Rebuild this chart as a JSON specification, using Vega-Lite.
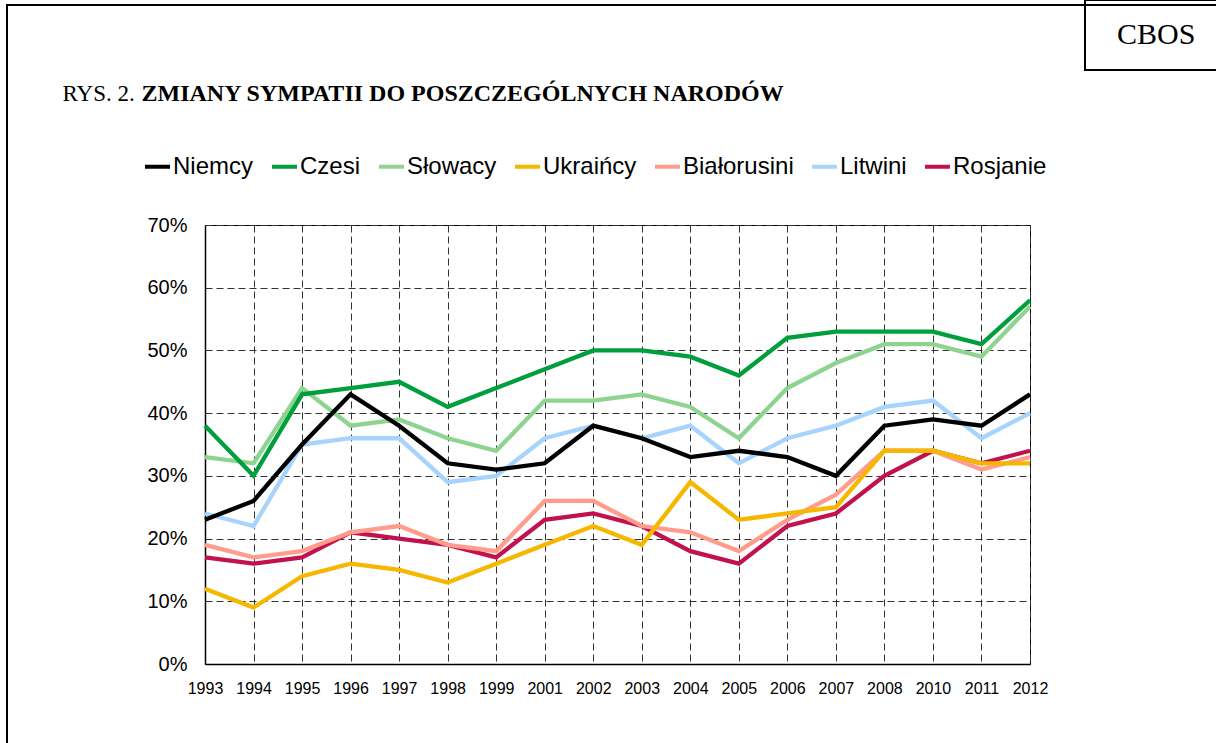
{
  "$schema": "https://vega.github.io/schema/vega-lite/v6.json",
  "width": 825,
  "height": 439,
  "autosize": {"type": "none"},
  "padding": {"left": 205, "top": 225, "right": 186, "bottom": 79},
  "background": "white",
  "config": {
    "view": {"stroke": "#000", "strokeWidth": 1},
    "font": "Liberation Sans",
    "legend": {"strokeWidth": 2}
  },
  "layer": [
    {
      "data": {
        "values": [
          {"rok": "1993", "narod": "Rosjanie", "v": 0.17}, {"rok": "1994", "narod": "Rosjanie", "v": 0.16}, {"rok": "1995", "narod": "Rosjanie", "v": 0.17}, {"rok": "1996", "narod": "Rosjanie", "v": 0.21}, {"rok": "1997", "narod": "Rosjanie", "v": 0.20}, {"rok": "1998", "narod": "Rosjanie", "v": 0.19}, {"rok": "1999", "narod": "Rosjanie", "v": 0.17}, {"rok": "2001", "narod": "Rosjanie", "v": 0.23}, {"rok": "2002", "narod": "Rosjanie", "v": 0.24}, {"rok": "2003", "narod": "Rosjanie", "v": 0.22}, {"rok": "2004", "narod": "Rosjanie", "v": 0.18}, {"rok": "2005", "narod": "Rosjanie", "v": 0.16}, {"rok": "2006", "narod": "Rosjanie", "v": 0.22}, {"rok": "2007", "narod": "Rosjanie", "v": 0.24}, {"rok": "2008", "narod": "Rosjanie", "v": 0.30}, {"rok": "2010", "narod": "Rosjanie", "v": 0.34}, {"rok": "2011", "narod": "Rosjanie", "v": 0.32}, {"rok": "2012", "narod": "Rosjanie", "v": 0.34},
          {"rok": "1993", "narod": "Litwini", "v": 0.24}, {"rok": "1994", "narod": "Litwini", "v": 0.22}, {"rok": "1995", "narod": "Litwini", "v": 0.35}, {"rok": "1996", "narod": "Litwini", "v": 0.36}, {"rok": "1997", "narod": "Litwini", "v": 0.36}, {"rok": "1998", "narod": "Litwini", "v": 0.29}, {"rok": "1999", "narod": "Litwini", "v": 0.30}, {"rok": "2001", "narod": "Litwini", "v": 0.36}, {"rok": "2002", "narod": "Litwini", "v": 0.38}, {"rok": "2003", "narod": "Litwini", "v": 0.36}, {"rok": "2004", "narod": "Litwini", "v": 0.38}, {"rok": "2005", "narod": "Litwini", "v": 0.32}, {"rok": "2006", "narod": "Litwini", "v": 0.36}, {"rok": "2007", "narod": "Litwini", "v": 0.38}, {"rok": "2008", "narod": "Litwini", "v": 0.41}, {"rok": "2010", "narod": "Litwini", "v": 0.42}, {"rok": "2011", "narod": "Litwini", "v": 0.36}, {"rok": "2012", "narod": "Litwini", "v": 0.40},
          {"rok": "1993", "narod": "Białorusini", "v": 0.19}, {"rok": "1994", "narod": "Białorusini", "v": 0.17}, {"rok": "1995", "narod": "Białorusini", "v": 0.18}, {"rok": "1996", "narod": "Białorusini", "v": 0.21}, {"rok": "1997", "narod": "Białorusini", "v": 0.22}, {"rok": "1998", "narod": "Białorusini", "v": 0.19}, {"rok": "1999", "narod": "Białorusini", "v": 0.18}, {"rok": "2001", "narod": "Białorusini", "v": 0.26}, {"rok": "2002", "narod": "Białorusini", "v": 0.26}, {"rok": "2003", "narod": "Białorusini", "v": 0.22}, {"rok": "2004", "narod": "Białorusini", "v": 0.21}, {"rok": "2005", "narod": "Białorusini", "v": 0.18}, {"rok": "2006", "narod": "Białorusini", "v": 0.23}, {"rok": "2007", "narod": "Białorusini", "v": 0.27}, {"rok": "2008", "narod": "Białorusini", "v": 0.34}, {"rok": "2010", "narod": "Białorusini", "v": 0.34}, {"rok": "2011", "narod": "Białorusini", "v": 0.31}, {"rok": "2012", "narod": "Białorusini", "v": 0.33},
          {"rok": "1993", "narod": "Ukraińcy", "v": 0.12}, {"rok": "1994", "narod": "Ukraińcy", "v": 0.09}, {"rok": "1995", "narod": "Ukraińcy", "v": 0.14}, {"rok": "1996", "narod": "Ukraińcy", "v": 0.16}, {"rok": "1997", "narod": "Ukraińcy", "v": 0.15}, {"rok": "1998", "narod": "Ukraińcy", "v": 0.13}, {"rok": "1999", "narod": "Ukraińcy", "v": 0.16}, {"rok": "2001", "narod": "Ukraińcy", "v": 0.19}, {"rok": "2002", "narod": "Ukraińcy", "v": 0.22}, {"rok": "2003", "narod": "Ukraińcy", "v": 0.19}, {"rok": "2004", "narod": "Ukraińcy", "v": 0.29}, {"rok": "2005", "narod": "Ukraińcy", "v": 0.23}, {"rok": "2006", "narod": "Ukraińcy", "v": 0.24}, {"rok": "2007", "narod": "Ukraińcy", "v": 0.25}, {"rok": "2008", "narod": "Ukraińcy", "v": 0.34}, {"rok": "2010", "narod": "Ukraińcy", "v": 0.34}, {"rok": "2011", "narod": "Ukraińcy", "v": 0.32}, {"rok": "2012", "narod": "Ukraińcy", "v": 0.32},
          {"rok": "1993", "narod": "Słowacy", "v": 0.33}, {"rok": "1994", "narod": "Słowacy", "v": 0.32}, {"rok": "1995", "narod": "Słowacy", "v": 0.44}, {"rok": "1996", "narod": "Słowacy", "v": 0.38}, {"rok": "1997", "narod": "Słowacy", "v": 0.39}, {"rok": "1998", "narod": "Słowacy", "v": 0.36}, {"rok": "1999", "narod": "Słowacy", "v": 0.34}, {"rok": "2001", "narod": "Słowacy", "v": 0.42}, {"rok": "2002", "narod": "Słowacy", "v": 0.42}, {"rok": "2003", "narod": "Słowacy", "v": 0.43}, {"rok": "2004", "narod": "Słowacy", "v": 0.41}, {"rok": "2005", "narod": "Słowacy", "v": 0.36}, {"rok": "2006", "narod": "Słowacy", "v": 0.44}, {"rok": "2007", "narod": "Słowacy", "v": 0.48}, {"rok": "2008", "narod": "Słowacy", "v": 0.51}, {"rok": "2010", "narod": "Słowacy", "v": 0.51}, {"rok": "2011", "narod": "Słowacy", "v": 0.49}, {"rok": "2012", "narod": "Słowacy", "v": 0.57},
          {"rok": "1993", "narod": "Czesi", "v": 0.38}, {"rok": "1994", "narod": "Czesi", "v": 0.30}, {"rok": "1995", "narod": "Czesi", "v": 0.43}, {"rok": "1996", "narod": "Czesi", "v": 0.44}, {"rok": "1997", "narod": "Czesi", "v": 0.45}, {"rok": "1998", "narod": "Czesi", "v": 0.41}, {"rok": "1999", "narod": "Czesi", "v": 0.44}, {"rok": "2001", "narod": "Czesi", "v": 0.47}, {"rok": "2002", "narod": "Czesi", "v": 0.50}, {"rok": "2003", "narod": "Czesi", "v": 0.50}, {"rok": "2004", "narod": "Czesi", "v": 0.49}, {"rok": "2005", "narod": "Czesi", "v": 0.46}, {"rok": "2006", "narod": "Czesi", "v": 0.52}, {"rok": "2007", "narod": "Czesi", "v": 0.53}, {"rok": "2008", "narod": "Czesi", "v": 0.53}, {"rok": "2010", "narod": "Czesi", "v": 0.53}, {"rok": "2011", "narod": "Czesi", "v": 0.51}, {"rok": "2012", "narod": "Czesi", "v": 0.58},
          {"rok": "1993", "narod": "Niemcy", "v": 0.23}, {"rok": "1994", "narod": "Niemcy", "v": 0.26}, {"rok": "1995", "narod": "Niemcy", "v": 0.35}, {"rok": "1996", "narod": "Niemcy", "v": 0.43}, {"rok": "1997", "narod": "Niemcy", "v": 0.38}, {"rok": "1998", "narod": "Niemcy", "v": 0.32}, {"rok": "1999", "narod": "Niemcy", "v": 0.31}, {"rok": "2001", "narod": "Niemcy", "v": 0.32}, {"rok": "2002", "narod": "Niemcy", "v": 0.38}, {"rok": "2003", "narod": "Niemcy", "v": 0.36}, {"rok": "2004", "narod": "Niemcy", "v": 0.33}, {"rok": "2005", "narod": "Niemcy", "v": 0.34}, {"rok": "2006", "narod": "Niemcy", "v": 0.33}, {"rok": "2007", "narod": "Niemcy", "v": 0.30}, {"rok": "2008", "narod": "Niemcy", "v": 0.38}, {"rok": "2010", "narod": "Niemcy", "v": 0.39}, {"rok": "2011", "narod": "Niemcy", "v": 0.38}, {"rok": "2012", "narod": "Niemcy", "v": 0.43}
        ]
      },
      "mark": {"type": "line", "strokeWidth": 4.3},
      "encoding": {
        "x": {
          "field": "rok", "type": "ordinal",
          "scale": {"type": "point", "padding": 0},
          "axis": {
            "title": "RYS. 2.", "titleX": -143, "titleY": -564, "titleAlign": "left", "titleAnchor": null,
            "titleBaseline": "alphabetic", "titleFont": "Liberation Serif", "titleFontSize": 23,
            "titleFontWeight": "normal", "titleColor": "#000",
            "labelAngle": 0, "labelFontSize": 16, "labelColor": "#000", "labelPadding": 16,
            "ticks": false, "domainColor": "#000", "domainWidth": 1.5,
            "grid": true, "gridDash": [7, 4], "gridColor": "#333", "gridWidth": 1
          }
        },
        "y": {
          "field": "v", "type": "quantitative",
          "scale": {"domain": [0, 0.7], "nice": false},
          "axis": {
            "title": "ZMIANY SYMPATII DO POSZCZEGÓLNYCH NARODÓW", "titleAngle": 0, "titleX": -64, "titleY": -125,
            "titleAlign": "left", "titleAnchor": null, "titleBaseline": "alphabetic", "titleFont": "Liberation Serif",
            "titleFontSize": 24, "titleFontWeight": "bold", "titleColor": "#000",
            "values": [0, 0.1, 0.2, 0.3, 0.4, 0.5, 0.6, 0.7], "format": ".0%",
            "labelFontSize": 20, "labelColor": "#000", "labelPadding": 18,
            "ticks": false, "domainColor": "#000", "domainWidth": 1.5,
            "grid": true, "gridDash": [7, 4], "gridColor": "#333", "gridWidth": 1
          }
        },
        "color": {
          "field": "narod", "type": "nominal",
          "scale": {
            "domain": ["Niemcy", "Czesi", "Słowacy", "Ukraińcy", "Białorusini", "Litwini", "Rosjanie"],
            "range": ["#000000", "#009E3C", "#8ED38F", "#F5B700", "#FF9C8C", "#A6D4FC", "#C2124E"]
          },
          "legend": {
            "title": null, "orient": "none", "legendX": -62, "legendY": -73, "direction": "horizontal", "columns": 7,
            "symbolType": "stroke", "symbolStrokeWidth": 4, "symbolSize": 625,
            "labelFontSize": 24, "labelColor": "#000", "labelOffset": 1, "columnPadding": 10,
            "padding": 0, "labelLimit": 400
          }
        }
      }
    },
    {
      "data": {"values": [{"org": "CBOS"}, {"org": "x"}]},
      "mark": {"type": "point", "opacity": 0},
      "encoding": {
        "shape": {
          "field": "org", "type": "nominal",
          "scale": {"domain": ["CBOS", "x"]},
          "legend": {
            "title": null, "orient": "none", "legendX": 880, "legendY": -225, "strokeColor": "#000",
            "direction": "horizontal", "columns": 2, "columnPadding": 16,
            "padding": 20, "symbolSize": 0, "symbolOpacity": 0,
            "labelFont": "Liberation Serif", "labelFontSize": 30, "labelColor": "#000", "labelOffset": -18, "labelLimit": 300,
            "labelExpr": "datum.value == 'CBOS' ? 'CBOS' : ''"
          }
        }
      }
    },
    {
      "data": {"values": [{"f": "ramka"}]},
      "mark": {"type": "point", "opacity": 0},
      "encoding": {
        "shape": {
          "field": "f", "type": "nominal",
          "legend": {
            "title": null, "orient": "none", "legendX": -198, "legendY": -220, "strokeColor": "#000",
            "padding": 700, "symbolSize": 0, "symbolOpacity": 0, "labelExpr": "''"
          }
        }
      }
    }
  ],
  "resolve": {"scale": {"shape": "independent"}}
}
